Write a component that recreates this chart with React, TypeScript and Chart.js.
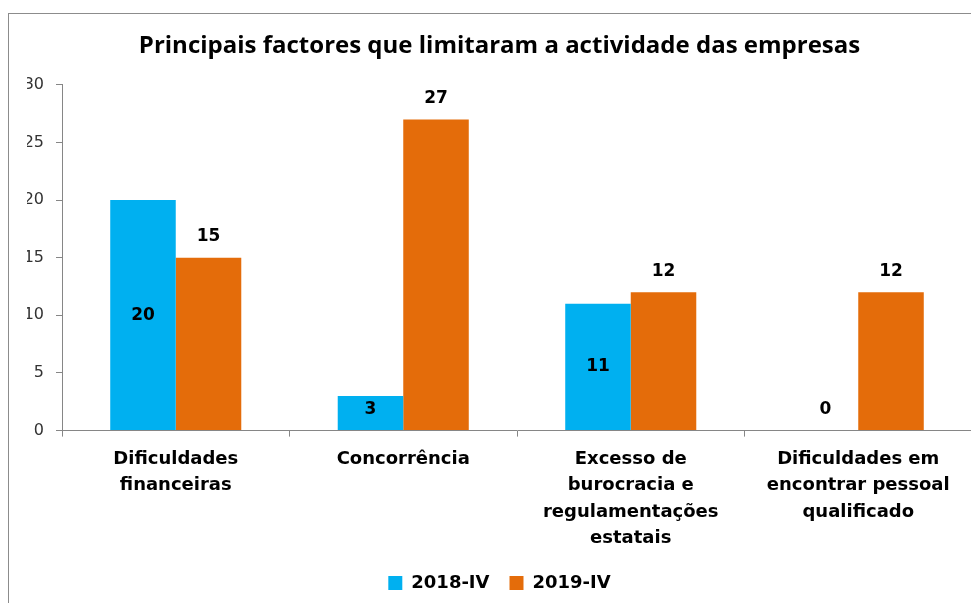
import React, { useEffect, useRef } from "react";
import { Chart, registerables } from "chart.js";

Chart.register(...registerables);

const categories: string[][] = [
  ["Dificuldades", "financeiras"],
  ["Concorrência"],
  ["Excesso de", "burocracia e", "regulamentações", "estatais"],
  ["Dificuldades em", "encontrar pessoal", "qualificado"],
];
const series2018: number[] = [20, 3, 11, 0];
const series2019: number[] = [15, 27, 12, 12];
const seriesNames: string[] = ["2018-IV", "2019-IV"];
const yTicks: number[] = [0, 5, 10, 15, 20, 25, 30];

const TITLE = "Principais factores que limitaram a actividade das empresas";
const AXIS = "#868686";
const FONT = "'DejaVu Sans', Verdana, sans-serif";

const labelPlugin = {
  id: "valueLabels",
  afterDatasetsDraw(chart: any) {
    const ctx = chart.ctx;
    ctx.save();
    ctx.font = `bold 17px ${FONT}`;
    ctx.fillStyle = "#000";
    ctx.textAlign = "center";
    ctx.textBaseline = "middle";
    chart.data.datasets.forEach((ds: any, di: number) => {
      const meta = chart.getDatasetMeta(di);
      meta.data.forEach((el: any, i: number) => {
        const v = ds.data[i];
        let y: number;
        if (di === 0) {
          y = (el.y + el.base) / 2;
          if (el.base - y < 21) y = el.base - 21;
        } else {
          y = el.y - 21;
        }
        ctx.fillText(String(v), el.x, y);
      });
    });
    ctx.restore();
  },
};

export default function App() {
  const ref = useRef<HTMLCanvasElement>(null);
  useEffect(() => {
    if (!ref.current) return;
    const chart = new Chart(ref.current, {
      type: "bar",
      data: {
        labels: categories,
        datasets: [
          {
            label: seriesNames[0],
            data: series2018,
            backgroundColor: "#00B0F0",
            categoryPercentage: 0.576,
            barPercentage: 1,
          },
          {
            label: seriesNames[1],
            data: series2019,
            backgroundColor: "#E46C0A",
            categoryPercentage: 0.576,
            barPercentage: 1,
          },
        ],
      },
      options: {
        responsive: false,
        animation: false,
        layout: { padding: { left: 18, right: 7, top: 0, bottom: 1 } },
        plugins: {
          title: {
            display: true,
            text: TITLE,
            color: "#000",
            font: { family: "'Liberation Sans Narrow', 'Open Sans', sans-serif", size: 24, weight: "bold" },
            padding: { top: 18, bottom: 24 },
          },
          legend: {
            position: "bottom",
            labels: {
              color: "#000",
              font: { family: FONT, size: 18, weight: "bold" },
              boxWidth: 14,
              boxHeight: 14,
              padding: 20,
            },
          },
          tooltip: { enabled: false },
        },
        scales: {
          x: {
            offset: true,
            afterFit(scale: any) {
              scale.height -= 7;
            },
            grid: {
              offset: true,
              drawOnChartArea: false,
              drawTicks: true,
              tickLength: 6,
              color: AXIS,
            },
            border: { color: AXIS },
            ticks: {
              color: "#000",
              font: { family: FONT, size: 18, weight: "bold", lineHeight: 1.45 },
              maxRotation: 0,
              autoSkip: false,
              padding: 10,
            },
          },
          y: {
            min: 0,
            max: 30,
            afterBuildTicks(scale: any) {
              scale.ticks = yTicks.map((v) => ({ value: v }));
            },
            afterFit(scale: any) {
              scale.width = 35;
            },
            grid: {
              drawOnChartArea: false,
              drawTicks: true,
              tickLength: 6,
              color: AXIS,
            },
            border: { color: AXIS },
            ticks: {
              color: "#333",
              font: { family: FONT, size: 16 },
              padding: 12,
            },
          },
        },
      },
      plugins: [labelPlugin],
    });
    return () => chart.destroy();
  }, []);

  return (
    <div style={{ position: "relative", width: 971, height: 595, overflow: "hidden" }}>
      <div
        style={{
          position: "absolute",
          left: 0,
          top: 5,
          width: 1000,
          height: 700,
          border: "1px solid #8c8c8c",
          boxSizing: "border-box",
          background: "#fff",
        }}
      />
      <canvas
        ref={ref}
        width={970}
        height={589}
        style={{ position: "absolute", left: 1, top: 6, width: 970, height: 589 }}
      />
    </div>
  );
}
